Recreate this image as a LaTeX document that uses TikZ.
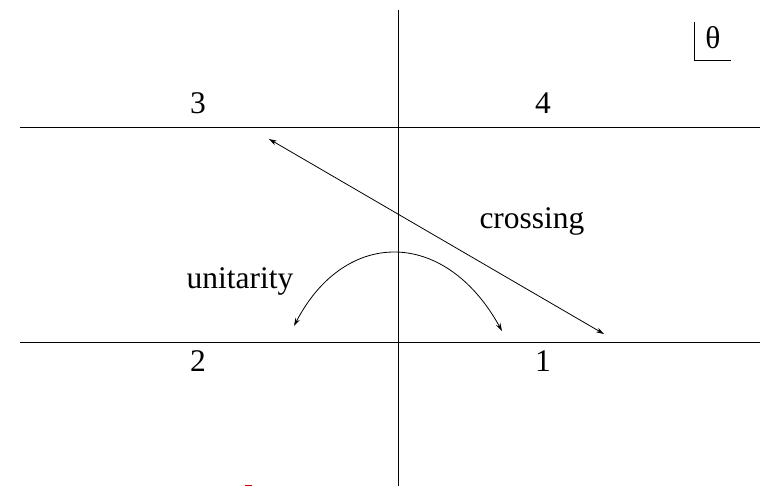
\documentclass[tikz,border=0pt]{standalone}
\usepackage{fontspec}
\setmainfont{Liberation Serif}
\usetikzlibrary{arrows.meta}
\begin{document}
\begin{tikzpicture}[x=1pt,y=-1pt,
  axis/.style={line width=1pt},
  lbl/.style={font=\fontsize{31.5}{33}\selectfont, inner sep=0pt},
  arr/.style={line width=0.8pt, {Stealth[length=8pt,width=5pt]}-{Stealth[length=8pt,width=5pt]}}]
\useasboundingbox (0,0) rectangle (766,486);
% axes
\coordinate (vt) at (398,10);
\coordinate (vb) at (398,486);
\coordinate (h1l) at (20,128);
\coordinate (h1r) at (760,128);
\coordinate (h2l) at (20,343);
\coordinate (h2r) at (760,343);
\draw[axis] (vt) -- (vb);
\draw[axis] (h1l) -- (h1r);
\draw[axis] (h2l) -- (h2r);
% labels
\node[lbl] (n3) at (198,103) {3};
\node[lbl] (n4) at (543,103) {4};
\node[lbl] (n2) at (198,361) {2};
\node[lbl] (n1) at (543,361) {1};
\node[lbl] (cr) at (532,221) {crossing};
\node[lbl] (un) at (240,281) {unitarity};
% theta
\node[lbl] (th) at (713,38) {θ};
\coordinate (ta) at (694,22);
\coordinate (tb) at (694,60);
\coordinate (tc) at (731,60);
\draw[line width=0.8pt] (ta) -- (tb) -- (tc);
% crossing arrow
\coordinate (ca) at (269,139);
\coordinate (cb) at (604,334);
\draw[arr] (ca) -- (cb);
% unitarity arc
\coordinate (ua) at (294,326);
\coordinate (ub) at (502,331);
\draw[arr] (ua) .. controls (345,228) and (445,228) .. (ub);
% tiny red mark
\fill[red!80!black] (245,484.5) rectangle (252,486);
\end{tikzpicture}
\end{document}
